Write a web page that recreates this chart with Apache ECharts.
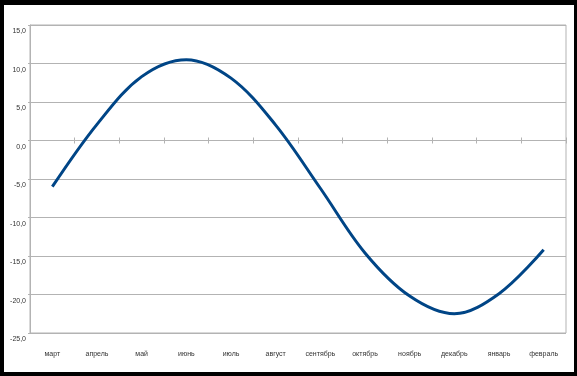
<!DOCTYPE html>
<html>
<head>
<meta charset="utf-8">
<script src="https://cdn.jsdelivr.net/npm/echarts@6/dist/echarts.min.js"></script>
<style>
html,body{margin:0;padding:0;background:#000;width:577px;height:376px;overflow:hidden;}
#chart{position:absolute;left:4px;top:5px;width:570px;height:367px;background:#fff;}
</style>
</head>
<body>
<div id="chart"></div>
<script>
const months = ['март','апрель','май','июнь','июль','август','сентябрь','октябрь','ноябрь','декабрь','январь','февраль'];
const values = [-6.0, 2.1, 8.3, 10.5, 8.1, 2.0, -6.2, -14.6, -20.2, -22.5, -19.9, -14.2];
const yMin = -25, yMax = 15, yStep = 5;

const FONT = '"Liberation Sans Narrow","Liberation Sans",sans-serif';
const gridColor = '#b3b3b3';
const chart = echarts.init(document.getElementById('chart'), null, {renderer:'canvas'});
chart.setOption({
  animation: false,
  backgroundColor: '#fff',
  grid: {left: 26, top: 20, right: 8, bottom: 39, show: true, borderColor: gridColor, borderWidth: 1, containLabel: false},
  xAxis: [
    {type:'category', data: months, position:'bottom', boundaryGap:true,
     axisLine:{show:false, onZero:false}, axisTick:{show:false},
     axisLabel:{margin:18, fontSize:7, fontFamily:FONT, color:'#333', interval:0},
     splitLine:{show:false}},
    {type:'category', data: months, position:'bottom', boundaryGap:true,
     axisLine:{show:true, onZero:true, onZeroAxisIndex:0, lineStyle:{color:gridColor}},
     axisTick:{show:true, inside:true, length:3, interval:0, lineStyle:{color:gridColor}},
     axisLabel:{show:false, interval:0}, splitLine:{show:false}},
    {type:'category', data: months, position:'top', boundaryGap:true,
     axisLine:{show:true, onZero:true, onZeroAxisIndex:1, lineStyle:{color:gridColor}},
     axisTick:{show:true, inside:true, length:3, interval:0, lineStyle:{color:gridColor}},
     axisLabel:{show:false, interval:0}, splitLine:{show:false}}
  ],
  yAxis: [
    {type:'value', min:yMin, max:yMax, interval:yStep, position:'left',
    axisLine:{show:true, onZero:false, lineStyle:{color:gridColor}},
    axisTick:{show:true, length:2, lineStyle:{color:gridColor}},
    splitLine:{show:true, lineStyle:{color:gridColor, width:1}},
    axisLabel:{fontSize:7, fontFamily:FONT, color:'#333', margin:4, verticalAlign:'top', padding:[3,0,0,0],
      formatter: v => v.toFixed(1).replace('.', ',')}},
    {type:'value', min:yMin, max:yMax, interval:yStep, position:'right',
    axisLine:{show:false, onZero:false}, axisTick:{show:false}, axisLabel:{show:false}, splitLine:{show:false}}
  ],
  series: [{
    type:'line', data: values, xAxisIndex:0, yAxisIndex:0, smooth:0.35, symbol:'none',
    lineStyle:{color:'#004586', width:3}
  }]
});
</script>
</body>
</html>
